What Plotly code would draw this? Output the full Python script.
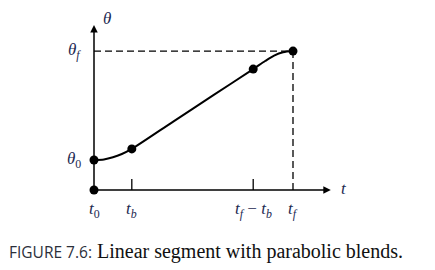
import plotly.graph_objects as go

# Data (t in units where t0=0, tf=10; theta in units where theta0=1)
t_marks = [0.0, 1.9, 8.0, 10.0]
tick_labels = ["<i>t</i><sub>0</sub>", "<i>t<sub>b</sub></i>", "<i>t<sub>f</sub></i> − <i>t<sub>b</sub></i>", "<i>t<sub>f</sub></i>"]
curve_t = [0.0, 0.5, 0.95, 1.4, 1.9, 4.0, 6.0, 8.0, 8.6, 9.05, 9.5, 10.0]
curve_theta = [1.0, 1.02, 1.09, 1.2, 1.37, 2.29, 3.16, 4.03, 4.3, 4.48, 4.59, 4.63]
point_t = [0.0, 0.0, 1.9, 8.0, 10.0]
point_theta = [0.0, 1.0, 1.37, 4.03, 4.63]
theta0, thetaf = 1.0, 4.63
t_f = 10.0

INK = "#1d2a52"
SERIF = "Liberation Serif, serif"


def serif(txt):
    return f"<span style='font-family:{SERIF}'>{txt}</span>"


fig = go.Figure()
fig.add_trace(go.Scatter(x=curve_t, y=curve_theta, mode="lines",
                         line=dict(color="black", width=2, shape="spline", smoothing=0.8),
                         hoverinfo="skip"))
fig.add_trace(go.Scatter(x=point_t, y=point_theta, mode="markers",
                         marker=dict(color="black", size=9), hoverinfo="skip"))

# dashed guides
fig.add_shape(type="line", x0=0, y0=thetaf, x1=t_f, y1=thetaf, line=dict(color="black", width=1.3, dash="7px,4px"))
fig.add_shape(type="line", x0=t_f, y0=0, x1=t_f, y1=thetaf, line=dict(color="black", width=1.3, dash="7px,4px"))
# tick marks
for tv in t_marks[1:3]:
    fig.add_shape(type="line", x0=tv, y0=0, x1=tv, y1=0.37, line=dict(color="black", width=1.3))

# axes with arrows
fig.add_annotation(x=11.9, y=0, ax=0, ay=0, xref="x", yref="y", axref="x", ayref="y",
                   showarrow=True, arrowhead=2, arrowsize=1, arrowwidth=1.5, arrowcolor="black", text="")
fig.add_annotation(x=0, y=5.5, ax=0, ay=0, xref="x", yref="y", axref="x", ayref="y",
                   showarrow=True, arrowhead=2, arrowsize=1, arrowwidth=1.5, arrowcolor="black", text="")

for tv, lab in zip(t_marks, tick_labels):
    fig.add_annotation(x=tv, y=-0.68, xref="x", yref="y", text=serif(lab), showarrow=False,
                       font=dict(family=SERIF, size=17, color=INK))
fig.add_annotation(x=12.3, y=0.05, xref="x", yref="y", text=serif("<i>t</i>"), showarrow=False,
                   xanchor="left", font=dict(family=SERIF, size=17, color=INK))
fig.add_annotation(x=0.35, y=5.73, xref="x", yref="y", text=serif("<i>θ</i>"), showarrow=False,
                   xanchor="left", font=dict(family=SERIF, size=17, color=INK))
fig.add_annotation(x=-0.55, y=thetaf, xref="x", yref="y", text=serif("<i>θ<sub>f</sub></i>"), showarrow=False,
                   xanchor="right", font=dict(family=SERIF, size=17, color=INK))
fig.add_annotation(x=-0.55, y=theta0, xref="x", yref="y", text=serif("<i>θ</i><sub>0</sub>"), showarrow=False,
                   xanchor="right", font=dict(family=SERIF, size=17, color=INK))

# caption
fig.add_annotation(x=7/435, y=1-251/270, xref="paper", yref="paper", showarrow=False,
                   xanchor="left", yanchor="middle",
                   font=dict(family=SERIF, size=20, color="#111111"),
                   text="<span style='font-family:Open Sans, sans-serif; color:#2b2f3a; font-size:15.5px'>FIGURE 7.6:</span> "
                        + serif("Linear segment with parabolic blends."))

fig.update_layout(
    width=435, height=270, margin=dict(l=0, r=0, t=0, b=0),
    paper_bgcolor="white", plot_bgcolor="white", showlegend=False,
    xaxis=dict(range=[-94/19.9, (435-94)/19.9], visible=False, fixedrange=True),
    yaxis=dict(range=[-80/30, 190/30], visible=False, fixedrange=True),
)
fig.write_html("out.html")
